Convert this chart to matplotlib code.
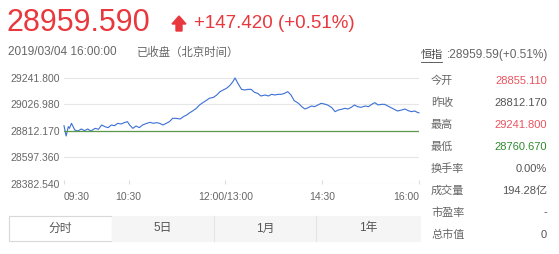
import matplotlib
matplotlib.use("Agg")
from matplotlib import pyplot as plt
from matplotlib.patches import Rectangle, Polygon

plt.rcParams['font.family'] = ['Liberation Sans', 'Noto Sans CJK SC', 'DejaVu Sans']

# minutes since 09:30 (lunch break removed), index values
minutes = [0, 2, 4, 5, 7, 10, 13, 16, 19, 22, 25, 29, 32, 35, 38, 41, 44, 47, 50, 53,
           56, 59, 61, 64, 67, 70, 73, 77, 80, 83, 86, 89, 92, 95, 98, 101, 104, 108, 111, 114,
           117, 120, 123, 126, 129, 132, 135, 139, 142, 145, 148, 151, 154, 157, 159, 162, 165, 168, 171, 174,
           177, 180, 183, 187, 190, 193, 196, 199, 202, 205, 208, 211, 214, 218, 221, 224, 227, 230, 233, 236,
           239, 242, 245, 249, 252, 255, 258, 261, 264, 267, 270, 273, 276, 280, 283, 286, 289, 292, 295, 298,
           301, 304, 307, 310, 314, 317, 320, 323, 326, 329, 330]
prices = [28855.1, 28771.7, 28847.3, 28833.8, 28874.3, 28820.3, 28812.2, 28828.4, 28814.9, 28828.4,
          28812.2, 28833.8, 28825.7, 28860.8, 28847.3, 28839.2, 28860.8, 28855.4, 28874.3, 28868.9,
          28879.7, 28887.8, 28860.8, 28833.8, 28852.7, 28839.2, 28860.8, 28874.3, 28882.4, 28874.3,
          28879.7, 28874.3, 28860.8, 28874.3, 28887.8, 28914.9, 28914.9, 28909.5, 28928.4, 28941.9,
          28960.8, 28977.0, 28995.9, 29022.9, 29041.9, 29058.1, 29077.0, 29085.1, 29104.0, 29131.0,
          29144.5, 29158.0, 29179.7, 29212.1, 29241.8, 29193.2, 29149.9, 29144.5, 29149.9, 29149.9,
          29125.6, 29117.5, 29095.9, 29104.0, 29095.9, 29109.4, 29104.0, 29109.4, 29109.4, 29117.5,
          29131.0, 29104.0, 29058.1, 29036.4, 29009.4, 28990.5, 29001.3, 29014.8, 29009.4, 29022.9,
          29036.4, 29031.0, 29022.9, 29001.3, 28968.9, 28982.4, 28987.8, 28995.9, 28990.5, 29004.0,
          29022.9, 29009.4, 29004.0, 29014.8, 29009.4, 29028.3, 29041.9, 29022.9, 29028.3, 29028.3,
          29014.8, 29001.3, 28987.8, 28974.3, 28982.4, 28990.5, 28977.0, 28968.9, 28974.3, 28960.8,
          28959.59]
prev_close = 28812.17
y_ticks = [28382.54, 28597.36, 28812.17, 29026.98, 29241.80]
x_ticks = [0, 60, 150, 240, 330]
x_labels = ["09:30", "10:30", "12:00/13:00", "14:30", "16:00"]

stat_names = ["今开", "昨收", "最高", "最低", "换手率", "成交量", "市盈率", "总市值"]
stat_values = ["28855.110", "28812.170", "29241.800", "28760.670", "0.00%", "194.28亿", "-", "0"]
stat_colors = ["#e8545f", "#555555", "#e8545f", "#2f8a2f", "#555555", "#555555", "#555555", "#555555"]
tabs = ["分时", "5日", "1月", "1年"]

W, H = 559, 254
RED = "#e8383d"
GRAY = "#666666"


def px(x, y):
    return x / W, 1 - y / H


fig = plt.figure(figsize=(W / 100, H / 100), dpi=100)
fig.patch.set_facecolor("white")

# chart area: x 64..419, y 74..184 px
ax = fig.add_axes([64 / W, 70 / H, (419 - 64) / W, (184 - 74) / H])
ax.plot(minutes, prices, color="#3b6fd4", lw=0.8, clip_on=False)
ax.axhline(prev_close, color="#5a9a4a", lw=0.9)
ax.set_xlim(0, 330)
ax.set_ylim(28382.54, 28382.54 + (184 - 74) * 8.106)
for v in y_ticks:
    ax.axhline(v, color="#e6e6e6", lw=0.8, zorder=0)
for s in ax.spines.values():
    s.set_visible(False)
ax.set_yticks(y_ticks)
ax.set_yticklabels(["%.3f" % v for v in y_ticks], fontsize=7.5, color=GRAY)
ax.tick_params(axis="y", length=0, pad=3)
ax.set_xticks(x_ticks)
ax.set_xticklabels(x_labels, fontsize=7.5, color=GRAY)
ax.tick_params(axis="x", direction="in", length=3, color="#dddddd", pad=6)
tl = ax.get_xticklabels()
tl[0].set_ha("left")
tl[-1].set_ha("right")

# header
fig.text(*px(7, 23), "28959.590", fontsize=22, color=RED, va="center", ha="left")
fig.patches.append(Polygon([px(172, 24), px(179, 16), px(186, 24), px(182, 24),
                            px(182, 31), px(176, 31), px(176, 24)],
                           closed=True, transform=fig.transFigure, color=RED))
fig.text(*px(194, 23), "+147.420 (+0.51%)", fontsize=13.5, color=RED, va="center", ha="left")
fig.text(*px(8, 52), "2019/03/04 16:00:00", fontsize=8.5, color=GRAY, va="center", ha="left")
fig.text(*px(137, 52), "已收盘（北京时间）", fontsize=8.2, color=GRAY, va="center", ha="left")

# right panel
fig.text(*px(421, 55), "恒指", fontsize=8, color="#444444", va="center", ha="left")
fig.add_artist(plt.Line2D([421 / W, 442 / W], [1 - 62 / H, 1 - 62 / H], color="#444444", lw=0.6))
fig.text(*px(548, 55), ":28959.59(+0.51%)", fontsize=8.6, color=GRAY, va="center", ha="right")
for i, (name, val, col) in enumerate(zip(stat_names, stat_values, stat_colors)):
    y = 80.5 + i * 22
    fig.text(*px(431, y), name, fontsize=8, color=GRAY, va="center", ha="left")
    fig.text(*px(547, y), val, fontsize=8, color=col, va="center", ha="right")

# tabs
tab_edges = [9, 112, 214, 316, 420]
for i, name in enumerate(tabs):
    x0, x1 = tab_edges[i], tab_edges[i + 1]
    fc = "white" if i == 0 else "#f5f5f5"
    ec = "#d8d8d8" if i == 0 else "#f5f5f5"
    fig.patches.append(Rectangle(px(x0, 241), (x1 - x0) / W, 25 / H, transform=fig.transFigure,
                                 facecolor=fc, edgecolor=ec, lw=0.8))
    if i > 1:
        fig.add_artist(plt.Line2D([x0 / W, x0 / W], [1 - 241 / H, 1 - 216 / H], color="#e4e4e4", lw=0.8))
    fig.text(*px((x0 + x1) / 2, 228.5), name, fontsize=8.5, color="#555555", va="center", ha="center")

fig.savefig("out.png", dpi=100)
